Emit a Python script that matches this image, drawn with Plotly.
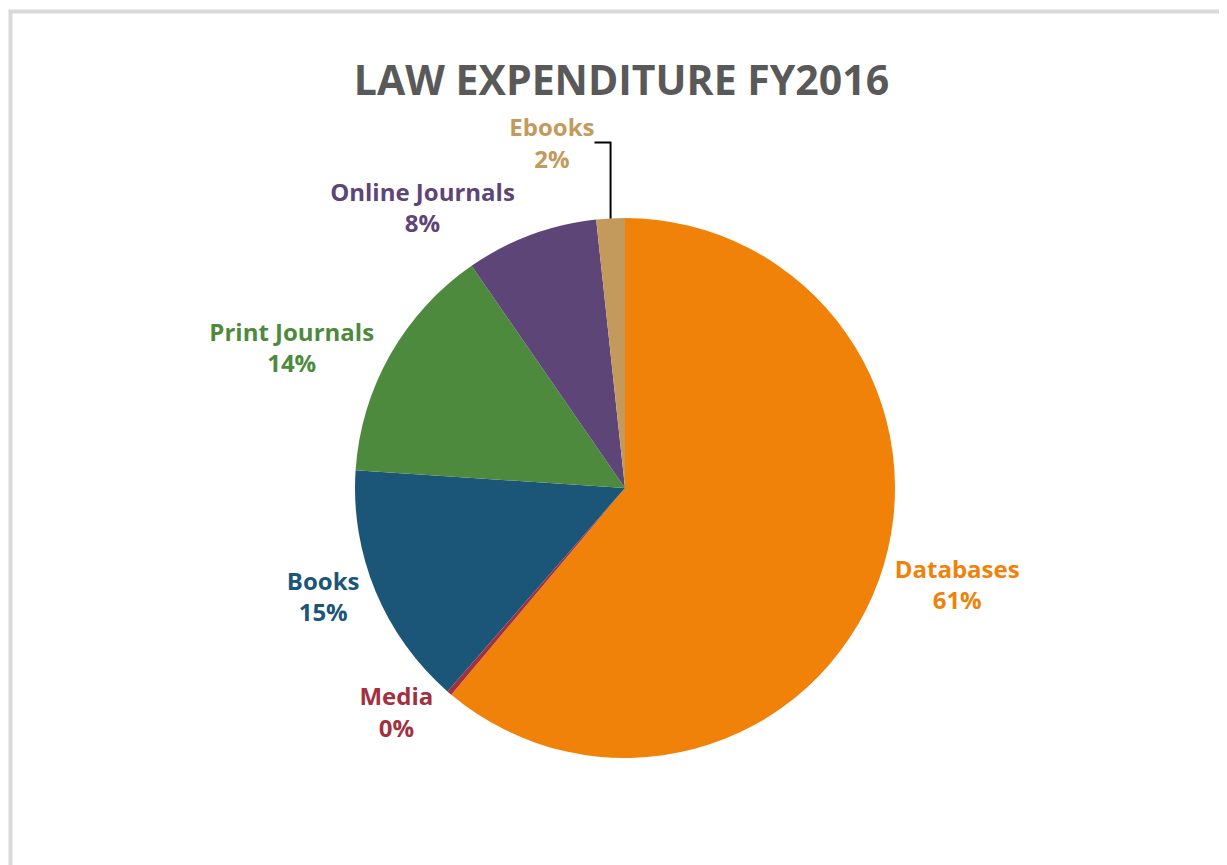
import plotly.graph_objects as go

categories = ["Databases", "Media", "Books", "Print Journals", "Online Journals", "Ebooks"]
values = [61.0, 0.3, 14.6, 14.3, 7.9, 1.7]
colors = ["#F0820A", "#A3303F", "#1B5679", "#4E8A3E", "#5E4578", "#C49A5C"]

W, H = 1227, 865
cx, cy, r = 617, 480, 270

fig = go.Figure(go.Pie(
    labels=categories,
    values=values,
    sort=False,
    direction="clockwise",
    rotation=0,
    marker=dict(colors=colors, line=dict(width=0)),
    textposition="outside",
    texttemplate="%{label}<br>%{percent:.0%}",
    textfont=dict(family="Open Sans", size=24, color=colors),
    outsidetextfont=dict(family="Open Sans", size=24, color=colors, weight="bold"),
    showlegend=False,
    automargin=False,
    domain=dict(x=[(cx - r) / W, (cx + r) / W], y=[1 - (cy + r) / H, 1 - (cy - r) / H]),
))

fig.update_layout(
    width=W, height=H,
    margin=dict(l=0, r=0, t=0, b=0),
    paper_bgcolor="white",
    title=dict(
        text="<b>LAW EXPENDITURE FY2016</b>",
        x=0.5, xanchor="center", y=1 - 73 / H, yanchor="middle",
        font=dict(family="Open Sans", size=41, color="#595959"),
    ),
    shapes=[dict(type="rect", xref="paper", yref="paper", x0=0.002, x1=1.2, y0=-0.2, y1=0.996,
                 line=dict(color="#D9D9D9", width=4), fillcolor="rgba(0,0,0,0)")],
)

fig.write_html("out.html")
